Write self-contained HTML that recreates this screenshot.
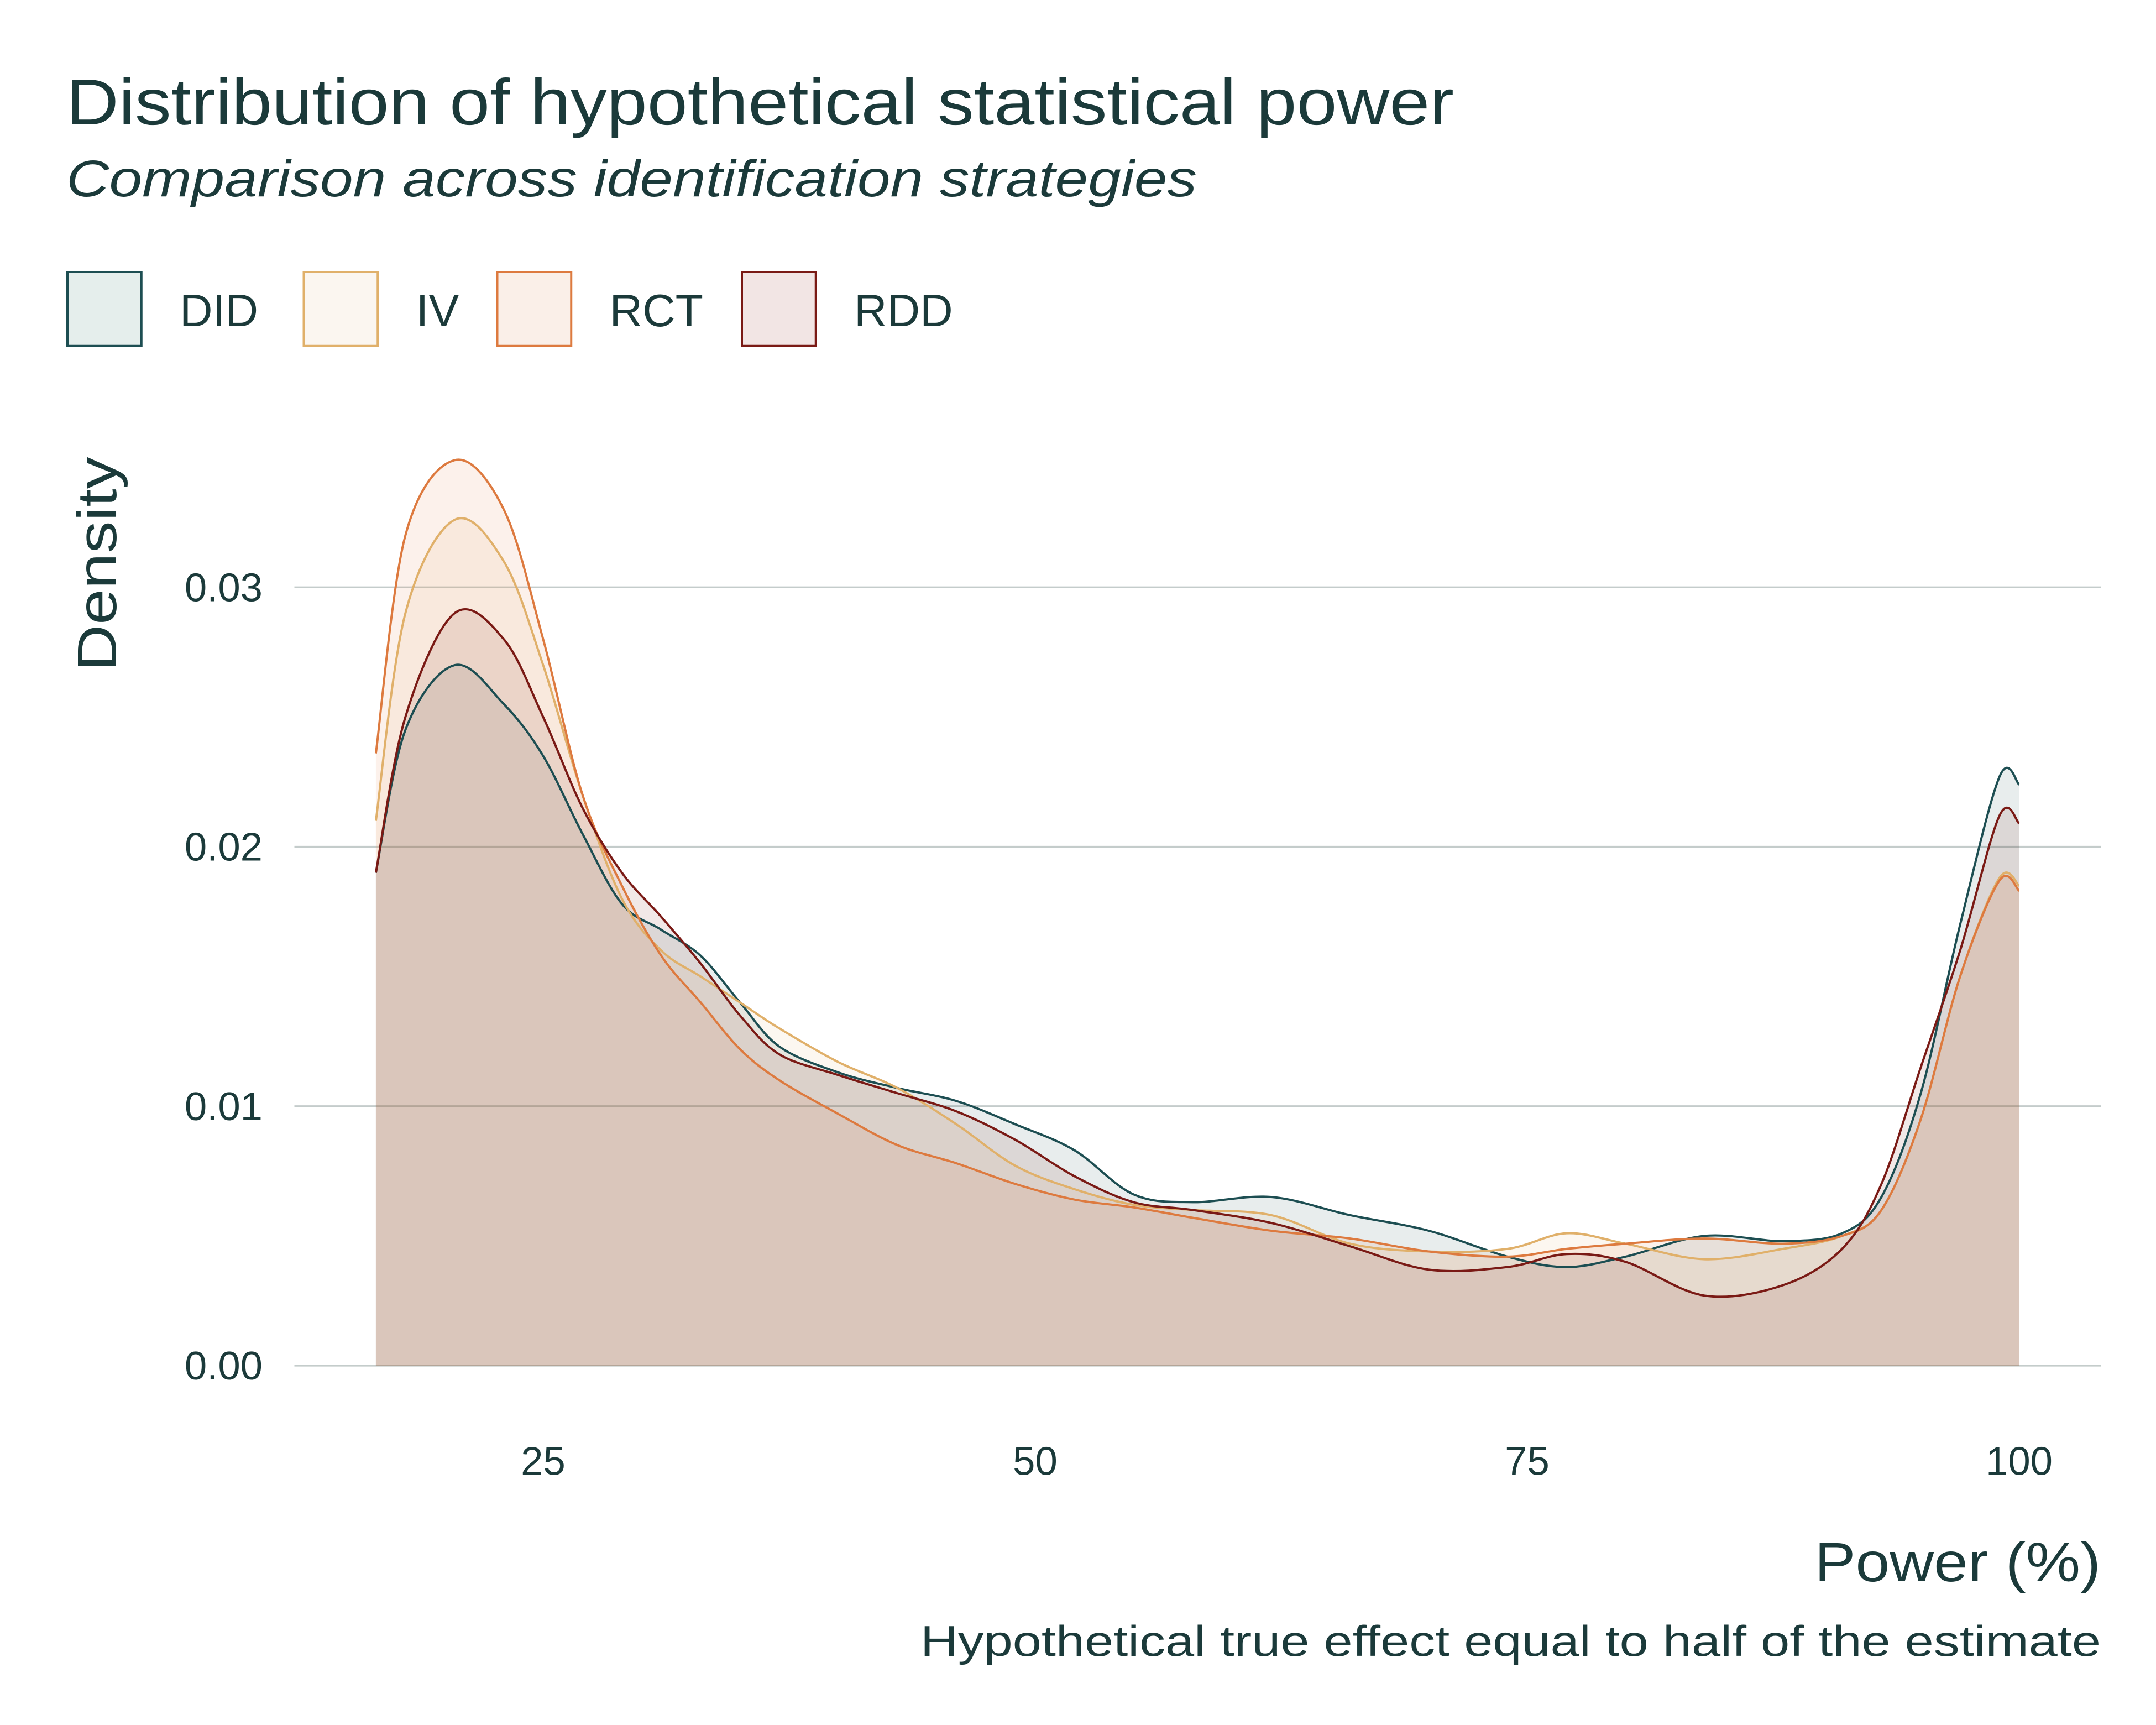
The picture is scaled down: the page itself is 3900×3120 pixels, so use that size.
<!DOCTYPE html>
<html><head><meta charset="utf-8">
<style>
html,body{margin:0;padding:0;background:#fff;}
svg{display:block;}
text{font-family:"Liberation Sans",sans-serif;fill:#1b3a3a;}
</style></head>
<body>
<svg id="chart" width="3900" height="3120" viewBox="0 0 1560 1248">
  <rect x="0" y="0" width="1560" height="1248" fill="#ffffff"/>
  <text x="48" y="90" font-size="47" textLength="1004" lengthAdjust="spacingAndGlyphs">Distribution of hypothetical statistical power</text>
  <text x="48" y="142" font-size="37" font-style="italic" textLength="818" lengthAdjust="spacingAndGlyphs">Comparison across identification strategies</text>
  <g id="legend"></g>
  <g id="grid"></g>
  <g id="areas"></g>
  <g id="lines"></g>
  <g id="yticks"></g>
  <g id="xticks"></g>
  <text x="0" y="0" font-size="40" transform="translate(84,408) rotate(-90)" text-anchor="middle" textLength="155" lengthAdjust="spacingAndGlyphs">Density</text>
  <text x="1520" y="1144" font-size="40" text-anchor="end" textLength="207" lengthAdjust="spacingAndGlyphs">Power (%)</text>
  <text x="1520" y="1198" font-size="31" text-anchor="end" textLength="854" lengthAdjust="spacingAndGlyphs">Hypothetical true effect equal to half of the estimate</text>
</svg>
<script>
const xs = [16.5,18,20.5,23,25,27,29,31,33,35,37,40,43,46,49,52,55,58,62,66,70,74,77,80,84,88,91,93,95,97,99,100];
const didVals = [0.019,0.0245,0.027,0.0255,0.0235,0.0205,0.0178,0.0168,0.0158,0.0140,0.0123,0.0113,0.0107,0.0102,0.0093,0.0083,0.0066,0.0063,0.0065,0.0058,0.0052,0.0042,0.0038,0.0042,0.0050,0.0048,0.0051,0.0065,0.0105,0.0170,0.0227,0.0224];
const ivVals = [0.021,0.029,0.0326,0.031,0.027,0.022,0.018,0.0160,0.0150,0.0140,0.0130,0.0117,0.0107,0.0093,0.0077,0.0068,0.0062,0.0060,0.0058,0.0047,0.0044,0.0045,0.0051,0.0047,0.0041,0.0045,0.0050,0.0060,0.0095,0.0150,0.0188,0.0185];
const rctVals = [0.0236,0.032,0.0349,0.033,0.028,0.022,0.0185,0.0158,0.0140,0.0122,0.0110,0.0097,0.0085,0.0078,0.0070,0.0064,0.0061,0.0057,0.0052,0.0049,0.0044,0.0042,0.0045,0.0047,0.0049,0.0047,0.0050,0.0060,0.0095,0.0150,0.0187,0.0183];
const rddVals = [0.019,0.025,0.029,0.028,0.025,0.0215,0.019,0.0173,0.0155,0.0135,0.0120,0.0112,0.0105,0.0098,0.0087,0.0073,0.0063,0.0060,0.0055,0.0046,0.0037,0.0038,0.0043,0.0040,0.0027,0.0031,0.0045,0.0070,0.0115,0.0160,0.0212,0.0209];
const seriesNames = ["DID","IV","RCT","RDD"];
const yTicks = [0,0.01,0.02,0.03];
const yTickLabels = ["0.00","0.01","0.02","0.03"];
const xTicks = [25,50,75,100];
const xTickLabels = ["25","50","75","100"];

const colors = ["#1d4e52","#e0b06a","#dd7a3f","#7a1a15"];
const fills = ["#e5eeec","#fbf6f0","#faefe8","#f2e5e4"];
const NS = "http://www.w3.org/2000/svg";
const xScale = v => 393 + (v - 25) * 14.24;
const yScale = v => 988 - v * 18770;

function mk(tag, attrs, parent){
  const e = document.createElementNS(NS, tag);
  for (const k in attrs) e.setAttribute(k, attrs[k]);
  parent.appendChild(e); return e;
}
function smoothPath(px, py){
  let d = "M" + px[0].toFixed(2) + "," + py[0].toFixed(2);
  for (let i = 0; i < px.length - 1; i++){
    const x0 = px[Math.max(i-1,0)], y0 = py[Math.max(i-1,0)];
    const x1 = px[i], y1 = py[i], x2 = px[i+1], y2 = py[i+1];
    const x3 = px[Math.min(i+2,px.length-1)], y3 = py[Math.min(i+2,px.length-1)];
    const c1x = x1 + (x2-x0)/6, c1y = y1 + (y2-y0)/6;
    const c2x = x2 - (x3-x1)/6, c2y = y2 - (y3-y1)/6;
    d += " C" + c1x.toFixed(2)+","+c1y.toFixed(2)+" "+c2x.toFixed(2)+","+c2y.toFixed(2)+" "+x2.toFixed(2)+","+y2.toFixed(2);
  }
  return d;
}

const grid = document.getElementById("grid");
const yt = document.getElementById("yticks");
yTicks.forEach((t,i)=>{
  const l = mk("line",{x1:213,x2:1520,y1:yScale(t),y2:yScale(t),stroke:"#c4cccb","stroke-width":1.3},grid);
  
  
  const tx = mk("text",{x:190,y:yScale(t)+10,"font-size":29,"text-anchor":"end"},yt);
  tx.textContent = yTickLabels[i];
  
  
});
const xt = document.getElementById("xticks");
xTicks.forEach((t,i)=>{
  const tx = mk("text",{x:xScale(t),y:1067,"font-size":29,"text-anchor":"middle"},xt);
  tx.textContent = xTickLabels[i];
  
  
});

const allVals = [didVals, ivVals, rctVals, rddVals];
const areas = document.getElementById("areas");
const lines = document.getElementById("lines");
allVals.forEach((vals, s)=>{
  const px = xs.map(xScale), py = vals.map(yScale);
  const line = smoothPath(px, py);
  const a = mk("path",{d: line + " L"+px[px.length-1]+","+yScale(0)+" L"+px[0]+","+yScale(0)+" Z", fill: colors[s], "fill-opacity":0.1, stroke:"none"}, areas);
  
  
  const l = mk("path",{d: line, fill:"none", stroke: colors[s], "stroke-width":1.6}, lines);
  
  
});

const legend = document.getElementById("legend");
const lx = [48, 219, 359, 536];
seriesNames.forEach((n,i)=>{
  const r = mk("rect",{x:lx[i]+0.8,y:196.8,width:53.5,height:53.5,fill:fills[i],stroke:colors[i],"stroke-width":1.6},legend);
  
  
  const t = mk("text",{x:lx[i]+82,y:236,"font-size":33},legend);
  t.textContent = n;
  
  
});
</script>
</body></html>
